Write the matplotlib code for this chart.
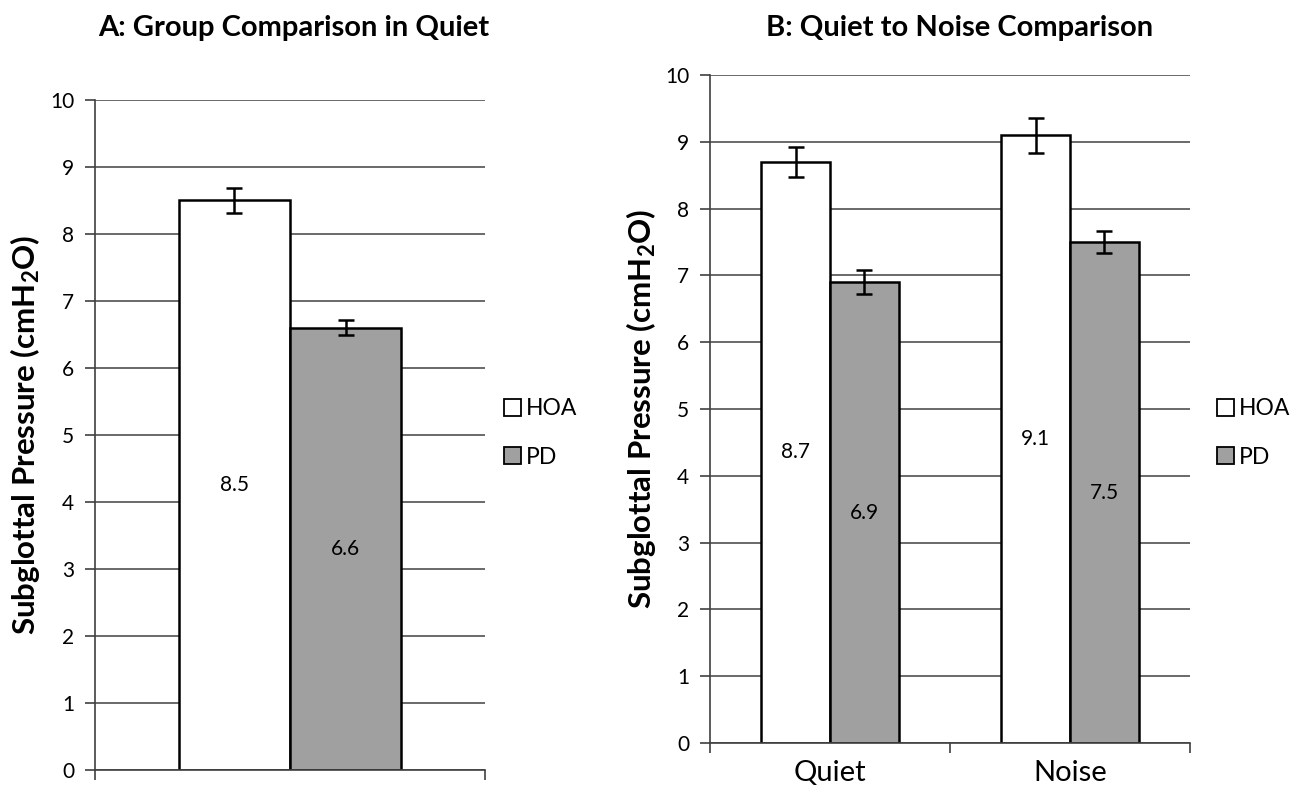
import matplotlib
matplotlib.use("Agg")
import matplotlib.pyplot as plt
import numpy as np
from matplotlib.patches import Patch

plt.rcParams['font.family'] = ['Lato', 'DejaVu Sans']
plt.rcParams['mathtext.fontset'] = 'custom'
plt.rcParams['mathtext.rm'] = 'Lato:bold'
plt.rcParams['mathtext.default'] = 'rm'

# Panel A data
groups = ['HOA', 'PD']
quiet_means = [8.5, 6.6]
quiet_err = [0.18, 0.11]

# Panel B data
conditions = ['Quiet', 'Noise']
hoa_means = [8.7, 9.1]
hoa_err = [0.22, 0.26]
pd_means = [6.9, 7.5]
pd_err = [0.18, 0.17]

colors = {'HOA': 'white', 'PD': '#a0a0a0'}
ylabel = 'Subglottal Pressure (cmH$_2$O)'
bar_w = 0.2857

fig = plt.figure(figsize=(12.97, 7.98), dpi=100)
axA = fig.add_axes([0.0732, 0.0351, 0.3008, 0.8396])
axB = fig.add_axes([0.5474, 0.0689, 0.3701, 0.8370])


def style_axis(ax, n_cat):
    ax.set_ylim(0, 10)
    ax.set_yticks(range(0, 11))
    ax.set_xlim(-0.5, n_cat - 0.5)
    ax.grid(True, axis='y', color='#505050', linewidth=1.2)
    ax.set_axisbelow(True)
    for s in ['top', 'right']:
        ax.spines[s].set_visible(False)
    for s in ['left', 'bottom']:
        ax.spines[s].set_color('#404040')
        ax.spines[s].set_linewidth(1.2)
    ax.set_xticks(np.arange(-0.5, n_cat, 1.0))
    ax.set_xticklabels([])
    ax.tick_params(axis='both', direction='out', length=7, width=1.2,
                   color='#404040', labelsize=15)
    ax.tick_params(axis='y', pad=8)
    ax.tick_params(axis='x', which='minor', length=0, labelsize=21, pad=12)
    ax.set_ylabel(ylabel, fontsize=22.5, fontweight='bold')


def value_labels(ax, bars, vals):
    for b, v in zip(bars, vals):
        ax.text(b.get_x() + b.get_width() / 2, v / 2, f'{v:.1f}',
                ha='center', va='center', fontsize=15)


err_kw = dict(ecolor='black', elinewidth=1.8, capsize=6, capthick=1.8)

# Panel A
style_axis(axA, 1)
bA1 = axA.bar([-bar_w / 2], [quiet_means[0]], bar_w, yerr=[quiet_err[0]],
              color=colors['HOA'], edgecolor='black', linewidth=1.8, error_kw=err_kw)
bA2 = axA.bar([bar_w / 2], [quiet_means[1]], bar_w, yerr=[quiet_err[1]],
              color=colors['PD'], edgecolor='black', linewidth=1.8, error_kw=err_kw)
value_labels(axA, bA1, [quiet_means[0]])
value_labels(axA, bA2, [quiet_means[1]])
axA.yaxis.set_label_coords(-0.135, 0.5)

# Panel B
style_axis(axB, 2)
x = np.arange(len(conditions))
bB1 = axB.bar(x - bar_w / 2, hoa_means, bar_w, yerr=hoa_err,
              color=colors['HOA'], edgecolor='black', linewidth=1.8, error_kw=err_kw)
bB2 = axB.bar(x + bar_w / 2, pd_means, bar_w, yerr=pd_err,
              color=colors['PD'], edgecolor='black', linewidth=1.8, error_kw=err_kw)
value_labels(axB, bB1, hoa_means)
value_labels(axB, bB2, pd_means)
axB.set_xticks(x, minor=True)
axB.set_xticklabels(conditions, minor=True)
axB.yaxis.set_label_coords(-0.108, 0.5)

handles = [Patch(facecolor=colors[g], edgecolor='black', linewidth=1.3) for g in groups]
leg_kw = dict(loc='center left', frameon=False, fontsize=16.5, handlelength=0.75,
              handleheight=0.75, handletextpad=0.2, labelspacing=1.2)
axA.legend(handles, groups, bbox_to_anchor=(0.995, 0.503), **leg_kw)
axB.legend(handles, groups, bbox_to_anchor=(1.0125, 0.464), **leg_kw)

fig.text(294 / 1297, 1 - 28 / 798, 'A: Group Comparison in Quiet',
         ha='center', va='center', fontsize=21, fontweight='bold')
fig.text(960 / 1297, 1 - 28 / 798, 'B: Quiet to Noise Comparison',
         ha='center', va='center', fontsize=21, fontweight='bold')

fig.savefig('out.png', dpi=100)
